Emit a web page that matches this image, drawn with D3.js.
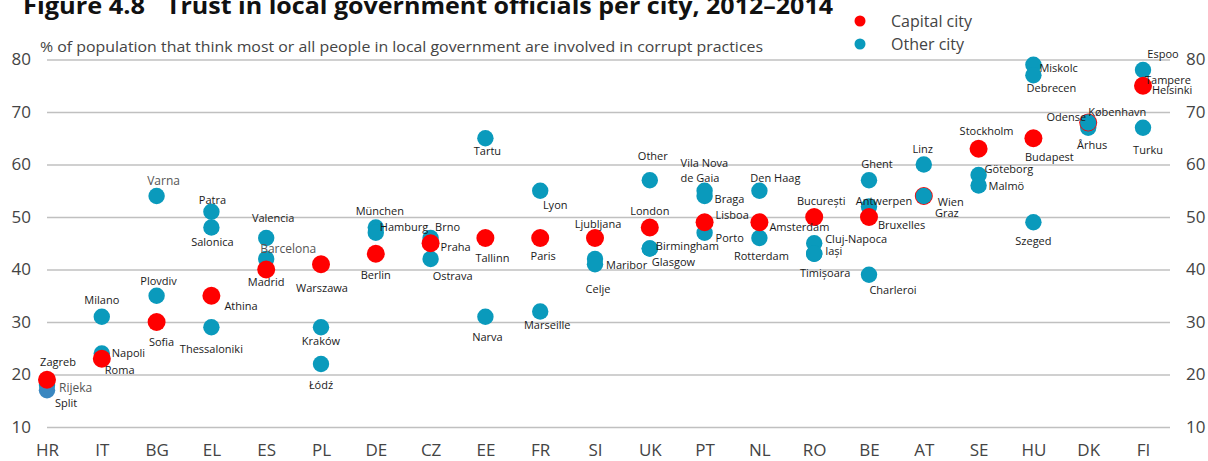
<!DOCTYPE html>
<html><head><meta charset="utf-8">
<script src="https://cdn.jsdelivr.net/npm/d3@7"></script>
<style>
html,body{margin:0;padding:0;background:#fff;}
svg{display:block;font-family:"Open Sans",sans-serif;}
</style></head>
<body><svg id="c" width="1208" height="461"></svg>
<script>
// ---- data ----
const countries = ["HR","IT","BG","EL","ES","PL","DE","CZ","EE","FR","SI","UK","PT","NL","RO","BE","AT","SE","HU","DK","FI"];
const yTicks = [10,20,30,40,50,60,70,80];
const cities = ["Rijeka","Split","Zagreb","Milano","Napoli","Roma","Varna","Plovdiv","Sofia","Patra","Salonica","Thessaloniki","Athina",
 "Valencia","Barcelona","Madrid","Kraków","Łódź","Warszawa","München","Hamburg","Berlin","Brno","Ostrava","Praha",
 "Tartu","Narva","Tallinn","Lyon","Marseille","Paris","Maribor","Celje","Ljubljana","Other","Birmingham","Glasgow","London",
 "Vila Nova de Gaia","Braga","Porto","Lisboa","Den Haag","Rotterdam","Amsterdam","Cluj-Napoca","Iași","Timișoara","București",
 "Ghent","Antwerpen","Charleroi","Bruxelles","Linz","Wien","Graz","Göteborg","Malmö","Stockholm",
 "Miskolc","Debrecen","Szeged","Budapest","Århus","København","Odense","Espoo","Tampere","Turku","Helsinki"];
const cityCountry = ["HR","HR","HR","IT","IT","IT","BG","BG","BG","EL","EL","EL","EL",
 "ES","ES","ES","PL","PL","PL","DE","DE","DE","CZ","CZ","CZ",
 "EE","EE","EE","FR","FR","FR","SI","SI","SI","UK","UK","UK","UK",
 "PT","PT","PT","PT","NL","NL","NL","RO","RO","RO","RO",
 "BE","BE","BE","BE","AT","AT","AT","SE","SE","SE",
 "HU","HU","HU","HU","DK","DK","DK","FI","FI","FI","FI"];
const cityValue = [18,17,19,31,24,23,54,35,30,51,48,29,35,
 46,42,40,29,22,41,48,47,43,46,42,45,
 65,31,46,55,32,46,42,41,46,57,44,44,48,
 55,54,47,49,55,46,49,45,43,43,50,
 57,52,39,50,60,54,54,58,56,63,
 79,77,49,65,67,68,68,78,75,67,75];
const cityType = ["other","other2","capital","other","other","capital","other","other","capital","other","other","other","capital",
 "other","other","capital","other","other","capital","other","other","capital","other","other","capital",
 "other","other","capital","other","other","capital","other","other","capital","other","other","other","capital",
 "other","other","other","capital","other","other","capital","other","other","other","capital",
 "other","other","other","capital","other","capital","other","other","other","capital",
 "other","other","other","capital","other","capital","other","other","other","other","capital"];
const legendLabels = ["Capital city","Other city"];
const titleNumber = "Figure 4.8";
const titleText = "Trust in local government officials per city, 2012–2014";
const subtitleText = "% of population that think most or all people in local government are involved in corrupt practices";

// ---- label layout (anchor, dx, dy relative to marker) ----
const labelLayout = {
 "Zagreb":["middle",11,-14],"Rijeka":["start",12,7,"g"],"Split":["start",8,17],
 "Milano":["middle",0,-13],"Napoli":["start",10,3],"Roma":["start",3,15],
 "Varna":["middle",7,-11,"g"],"Plovdiv":["middle",2,-11],"Sofia":["middle",5,24],
 "Patra":["middle",1,-8],"Salonica":["middle",1,18.5],"Athina":["start",13,14],"Thessaloniki":["middle",0,26],
 "Valencia":["middle",7,-16],"Barcelona":["middle",22,-6,"g"],"Madrid":["middle",0,16.5],
 "Warszawa":["middle",1,28],"Kraków":["middle",0,18],"Łódź":["middle",0,25],
 "München":["middle",4,-12.5],"Hamburg":["start",4,-2],"Berlin":["middle",0,25],
 "Brno":["middle",17,-7],"Praha":["start",10,8],"Ostrava":["middle",22,21],
 "Tartu":["middle",2,17],"Tallinn":["middle",7,24],"Narva":["middle",2,24],
 "Lyon":["middle",15,18],"Paris":["middle",3,22],"Marseille":["middle",7,17.5],
 "Ljubljana":["middle",3,-10],"Maribor":["start",11,10],"Celje":["middle",3,29],
 "Other":["middle",3,-20],"London":["middle",0,-12.5],"Birmingham":["start",6,1.5],"Glasgow":["start",2,17.5],
 "Vila Nova de Gaia":["start",-24,-24],"Braga":["start",10,7],"Lisboa":["start",11,-3],"Porto":["start",11,9],
 "Den Haag":["middle",16,-9],"Amsterdam":["start",10,9],"Rotterdam":["middle",2,22],
 "București":["middle",7,-12],"Cluj-Napoca":["start",11,-0.5],"Iași":["start",11,1.5],"Timișoara":["middle",11,23],
 "Ghent":["middle",8,-12],"Antwerpen":["middle",15,-1.5],"Bruxelles":["start",9,12],"Charleroi":["middle",24,19],
 "Linz":["middle",-1,-11.5],"Wien":["start",14,10],"Graz":["middle",23,21],
 "Stockholm":["middle",8,-14],"Göteborg":["start",6,-2.5],"Malmö":["start",10,4.5],
 "Miskolc":["start",6,7],"Debrecen":["middle",18,17],"Budapest":["middle",16,23],"Szeged":["middle",0,23],
 "København":["start",0,-6.5],"Odense":["end",-2,-1.5],"Århus":["middle",4,21],
 "Espoo":["middle",20,-12],"Tampere":["start",2,-2],"Helsinki":["start",9,8],"Turku":["middle",5,26]
};

const colors = {capital:"#ff0000", other:"#0a9abc", other2:"#3a87c0"};
const radius = {capital:9, other:8.2, other2:8.2};

const svg = d3.select("#c");
const x = d3.scalePoint().domain(countries).range([47,1143]);
const y = d3.scaleLinear().domain([10,80]).range([427,59.5]);

// title
svg.append("text").attr("x",23).attr("y",14).attr("font-size",24).attr("font-weight","bold")
  .attr("fill","#111").attr("textLength",122).attr("lengthAdjust","spacingAndGlyphs")
  .text(titleNumber);
svg.append("text").attr("x",166).attr("y",14).attr("font-size",24).attr("font-weight","bold")
  .attr("fill","#111").attr("textLength",667).attr("lengthAdjust","spacingAndGlyphs")
  .text(titleText);
svg.append("text").attr("x",40).attr("y",52).attr("font-size",14).attr("fill","#444")
  .attr("textLength",723).attr("lengthAdjust","spacingAndGlyphs")
  .text(subtitleText);

// gridlines
const grid = svg.append("g").attr("transform","translate(47,0)")
  .call(d3.axisRight(y).tickValues(yTicks).tickSize(1123).tickFormat(""));
grid.select(".domain").remove();
grid.selectAll("line").attr("stroke","#c0c0c0").attr("stroke-width",1.6);

// left axis labels
const yl = svg.append("g").attr("transform","translate(31,0)")
  .call(d3.axisLeft(y).tickValues(yTicks).tickSize(0).tickPadding(0));
yl.select(".domain").remove();
yl.selectAll("text").attr("font-size",17).attr("fill","#444").attr("font-family","'Open Sans',sans-serif");
// right axis labels
const yr = svg.append("g").attr("transform","translate(1186,0)")
  .call(d3.axisRight(y).tickValues(yTicks).tickSize(0).tickPadding(0));
yr.select(".domain").remove();
yr.selectAll("text").attr("font-size",17).attr("fill","#444").attr("font-family","'Open Sans',sans-serif");

// x axis
const xa = svg.append("g").attr("transform","translate(0,440)")
  .call(d3.axisBottom(x).tickSize(0).tickPadding(0));
xa.select(".domain").remove();
xa.selectAll("text").attr("font-size",17).attr("fill","#444").attr("font-family","'Open Sans',sans-serif").attr("dy","0.95em");

// points
const pts = cities.map((c,i)=>({name:c,country:cityCountry[i],value:cityValue[i],type:cityType[i]}));
svg.append("g").selectAll("circle").data(pts).join("circle")
  .attr("cx",d=>x(d.country)).attr("cy",d=>y(d.value))
  .attr("r",d=>radius[d.type]).attr("fill",d=>colors[d.type]);

// labels
const lg = svg.append("g");
pts.forEach(d=>{
  const L = labelLayout[d.name];
  const t = lg.append("text").attr("x",x(d.country)+L[1]).attr("y",y(d.value)+L[2])
    .attr("text-anchor",L[0]).attr("font-size",L[3]?12:11).attr("fill",L[3]?"#555":"#1a1a1a");
  if(d.name==="Vila Nova de Gaia"){
    t.append("tspan").text("Vila Nova");
    t.append("tspan").attr("x",x(d.country)+L[1]).attr("dy",15).text("de Gaia");
  } else t.text(d.name);
});

// legend
const leg = svg.append("g");
legendLabels.forEach((l,i)=>{
  const k = i===0?"capital":"other";
  leg.append("circle").attr("cx",860).attr("cy",21+i*23).attr("r",5.5).attr("fill",colors[k]);
  leg.append("text").attr("x",891).attr("y",27+i*23).attr("font-size",16).attr("fill","#444").text(l);
});
</script></body></html>
